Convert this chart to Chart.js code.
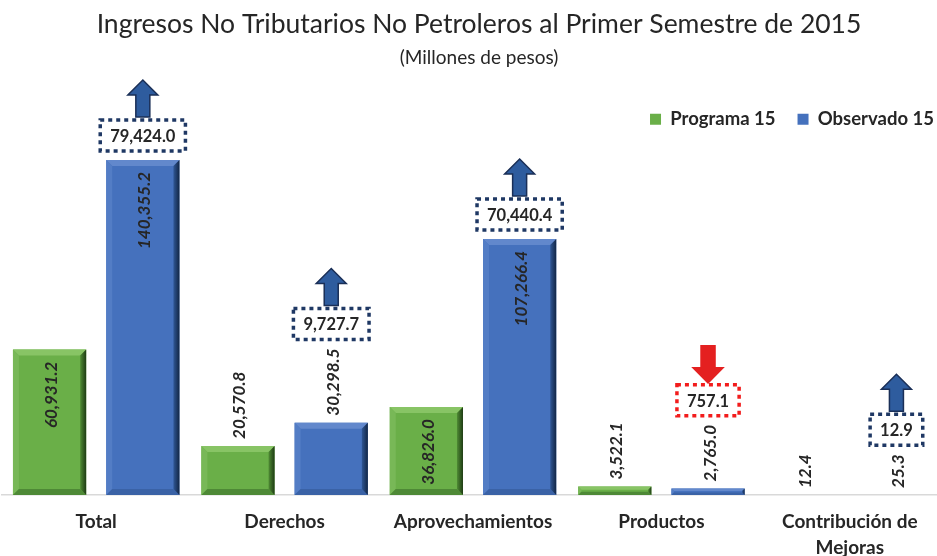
<!DOCTYPE html>
<html><head><meta charset="utf-8">
<script src="https://cdn.jsdelivr.net/npm/chart.js@4.4.0/dist/chart.umd.min.js"></script>
<style>html,body{margin:0;padding:0;background:#fff;overflow:hidden;}#wrap{width:937px;height:556px;overflow:hidden;}</style>
</head><body><div id="wrap"><canvas id="c" width="956" height="556"></canvas></div>
<script>
// ---- data ----
const categories = ['Total', 'Derechos', 'Aprovechamientos', 'Productos', ['Contribución de', 'Mejoras']];
const seriesNames = ['Programa 15', 'Observado 15'];
const programa = [60931.2, 20570.8, 36826.0, 3522.1, 12.4];
const observado = [140355.2, 30298.5, 107266.4, 2765.0, 25.3];
const diferencias = [79424.0, 9727.7, 70440.4, -757.1, 12.9];
const yMax = 149300;

const FONT = 'Lato, "Open Sans", sans-serif';
const TEXT = '#262626';
const palette = [
  {base:'#6AAF48', top:'#88C465', left:'#78B857', rightOut:'#1E3B14', rightIn:'#4F8B34', bottom:'#4E8936'},
  {base:'#4571BD', top:'#6288CC', left:'#537DC5', rightOut:'#122645', rightIn:'#2F5694', bottom:'#3A62A6'}
];

function fmt(v){
  const neg = v < 0; v = Math.abs(v);
  const s = v.toFixed(1); const [i, d] = s.split('.');
  return (neg ? '-' : '') + i.replace(/\B(?=(\d{3})+(?!\d))/g, ',') + '.' + d;
}

function poly(ctx, pts, color){
  ctx.beginPath(); ctx.moveTo(pts[0][0], pts[0][1]);
  for (let k = 1; k < pts.length; k++) ctx.lineTo(pts[k][0], pts[k][1]);
  ctx.closePath(); ctx.fillStyle = color; ctx.fill();
}

function arrow(ctx, cx, yBottom, up, fill, stroke){
  const w = 30, h = 37, head = 15, shaft = 14;
  const yT = yBottom - h;
  ctx.beginPath();
  if (up){
    ctx.moveTo(cx, yT);
    ctx.lineTo(cx + w/2, yT + head); ctx.lineTo(cx + shaft/2, yT + head);
    ctx.lineTo(cx + shaft/2, yBottom); ctx.lineTo(cx - shaft/2, yBottom);
    ctx.lineTo(cx - shaft/2, yT + head); ctx.lineTo(cx - w/2, yT + head);
  } else {
    ctx.moveTo(cx, yBottom);
    ctx.lineTo(cx + w/2, yBottom - head); ctx.lineTo(cx + shaft/2, yBottom - head);
    ctx.lineTo(cx + shaft/2, yT); ctx.lineTo(cx - shaft/2, yT);
    ctx.lineTo(cx - shaft/2, yBottom - head); ctx.lineTo(cx - w/2, yBottom - head);
  }
  ctx.closePath();
  ctx.fillStyle = fill; ctx.fill();
  ctx.lineWidth = 1.5; ctx.strokeStyle = stroke; ctx.stroke();
}

const barDecor = {
  id: 'barDecor',
  afterDatasetsDraw(chart){
    const ctx = chart.ctx;
    ctx.save();
    chart.data.datasets.forEach((ds, di) => {
      const meta = chart.getDatasetMeta(di);
      const pal = palette[di];
      meta.data.forEach((bar) => {
        const p = bar.getProps(['x','y','base','width'], true);
        const x0 = p.x - p.width/2, x1 = p.x + p.width/2, y0 = p.y, y1 = p.base;
        const h = y1 - y0;
        if (h < 1) return;
        const b = Math.min(6, h/2.6, p.width/3);
        poly(ctx, [[x0,y0],[x1,y0],[x1-b,y0+b],[x0+b,y0+b]], pal.top);
        poly(ctx, [[x0,y0],[x0+b,y0+b],[x0+b,y1-b],[x0,y1]], pal.left);
        poly(ctx, [[x0,y1],[x1,y1],[x1-b,y1-b],[x0+b,y1-b]], pal.bottom);
        const g = ctx.createLinearGradient(x1 - b, 0, x1, 0);
        g.addColorStop(0, pal.rightIn); g.addColorStop(1, pal.rightOut);
        poly(ctx, [[x1,y0],[x1,y1],[x1-b,y1-b],[x1-b,y0+b]], g);
      });
    });
    chart.data.datasets.forEach((ds, di) => {
      const meta = chart.getDatasetMeta(di);
      meta.data.forEach((bar, i) => {
        const p = bar.getProps(['x','y','base','width'], true);
        const txt = fmt(ds.data[i]);
        ctx.font = 'italic bold 17px ' + FONT;
        const tw = ctx.measureText(txt).width;
        const h = p.base - p.y;
        const inside = h > tw + 18;
        ctx.save();
        ctx.fillStyle = TEXT;
        ctx.textBaseline = 'middle';
        let contentTop;
        if (inside){
          ctx.translate(p.x + 2, p.y + 12);
          ctx.rotate(-Math.PI/2);
          ctx.textAlign = 'right';
          contentTop = p.y;
        } else {
          ctx.translate(p.x + 2, p.y - 7);
          ctx.rotate(-Math.PI/2);
          ctx.textAlign = 'left';
          contentTop = p.y - 7 - tw;
        }
        ctx.fillText(txt, 0, 0);
        ctx.restore();

        if (di === 1){
          const d = diferencias[i];
          const dtxt = fmt(Math.abs(d));
          const up = d >= 0;
          const col = up ? '#1F3864' : '#F21C1C';
          ctx.font = 'bold 16.5px ' + FONT;
          const dw = ctx.measureText(dtxt).width;
          const bw = dw + 20, bh = 31;
          const by1 = contentTop - 9, by0 = by1 - bh;
          const bx0 = p.x - bw/2;
          ctx.save();
          ctx.fillStyle = '#fff';
          ctx.fillRect(bx0, by0, bw, bh);
          ctx.setLineDash([4, 4]);
          ctx.lineWidth = 3.5;
          ctx.strokeStyle = col;
          ctx.strokeRect(bx0, by0, bw, bh);
          ctx.restore();
          ctx.fillStyle = TEXT;
          ctx.textAlign = 'center';
          ctx.textBaseline = 'middle';
          ctx.fillText(dtxt, p.x, (by0 + by1)/2 + 1);
          if (up) arrow(ctx, p.x, by0 - 3, true, '#2E5C9E', '#1A2F57');
          else arrow(ctx, p.x, by0 - 2, false, '#E42020', '#E42020');
        }
      });
    });
    ctx.restore();
  }
};

new Chart(document.getElementById('c'), {
  type: 'bar',
  data: {
    labels: categories,
    datasets: [
      {label: seriesNames[0], data: programa, backgroundColor: palette[0].base, borderWidth: 0,
       categoryPercentage: 0.99, barPercentage: 0.785},
      {label: seriesNames[1], data: observado, backgroundColor: palette[1].base, borderWidth: 0,
       categoryPercentage: 0.99, barPercentage: 0.785}
    ]
  },
  options: {
    responsive: false,
    animation: false,
    layout: {padding: {left: 2, right: 0, top: 0, bottom: -19}},
    plugins: {
      title: {display: true, text: 'Ingresos No Tributarios No Petroleros al Primer Semestre de 2015',
        color: TEXT, font: {family: FONT, size: 26.5, weight: 'normal'}, padding: {top: 9, bottom: 0}},
      subtitle: {display: true, text: '(Millones de pesos)', color: TEXT,
        font: {family: FONT, size: 19, weight: 'normal'}, padding: {top: 6, bottom: 18.5}},
      legend: {align: 'end', fullSize: true,
        labels: {usePointStyle: true, pointStyle: 'rect', boxWidth: 11, boxHeight: 11,
        color: TEXT, font: {family: FONT, size: 18.5, weight: 'bold'}, padding: 22}},
      tooltip: {enabled: false}
    },
    scales: {
      x: {grid: {display: false, drawTicks: false}, border: {color: '#D9D9D9', width: 1.5},
          ticks: {color: TEXT, font: {family: FONT, size: 19, weight: 'bold', lineHeight: 1.368},
                  padding: 14, maxRotation: 0, autoSkip: false}},
      y: {display: false, min: 0, max: yMax},
      yPad: {type: 'linear', position: 'right', display: true, min: 0, max: 1,
             grid: {display: false, drawTicks: false}, border: {display: false},
             ticks: {display: false}, afterFit: (s) => { s.width = 12; }}
    }
  },
  plugins: [barDecor]
});
</script></body></html>
